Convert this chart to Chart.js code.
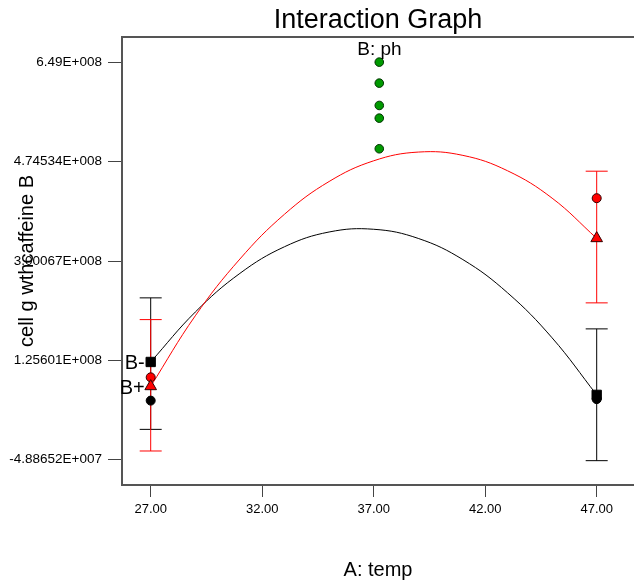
<!DOCTYPE html>
<html>
<head>
<meta charset="utf-8">
<script src="https://cdn.jsdelivr.net/npm/chart.js@4.4.1/dist/chart.umd.min.js"></script>
<style>
  html, body { margin: 0; padding: 0; background: #fff; }
  canvas { display: block; }
</style>
</head>
<body>
<canvas id="c" width="634" height="584"></canvas>
<script>
// Factor A (temp) design levels
const tempLevels = [27, 47];

// Model predictions at the design levels for each level of B (ph)
const bMinusPred = [1.228e8, 6.50e7];
const bPlusPred = [8.0e7, 3.40e8];

// Observed responses at the design levels
const bMinusObs = [5.49e7, 5.75e7];
const bPlusObs = [9.58e7, 4.105e8];

// Interval limits around the predictions
const bMinusLow = [4.4e6, -5.06e7];
const bMinusHigh = [2.354e8, 1.809e8];
const bPlusLow = [-3.36e7, 2.266e8];
const bPlusHigh = [1.972e8, 4.579e8];

// Center point runs
const centerTemp = 37.25;
const centerObs = [6.495e8, 6.126e8, 5.734e8, 5.511e8, 4.973e8];

// Fitted response curves across temp
const curveTemp = [27, 29, 31, 33, 35, 37, 39, 41, 43, 45, 47];
const bMinusCurve = [1.228e8, 2.105e8, 2.784e8, 3.252e8, 3.511e8, 3.559e8, 3.398e8, 3.026e8, 2.444e8, 1.652e8, 6.50e7];
const bPlusCurve = [8.0e7, 2.039e8, 3.036e8, 3.823e8, 4.398e8, 4.762e8, 4.915e8, 4.857e8, 4.587e8, 4.106e8, 3.40e8];

// Axis ticks
const xTickValues = [27, 32, 37, 42, 47];
const xTickLabels = ['27.00', '32.00', '37.00', '42.00', '47.00'];
const yTickValues = [-4.88652e7, 1.25601e8, 3.00067e8, 4.74534e8, 6.49e8];
const yTickLabels = ['-4.88652E+007', '1.25601E+008', '3.00067E+008', '4.74534E+008', '6.49E+008'];

const FONT = 'Arial, "Liberation Sans", sans-serif';
Chart.defaults.font.family = FONT;
Chart.defaults.color = '#000';

const pairs = (xs, ys) => xs.map((x, i) => ({ x, y: ys[i] }));

function barPoints(low, high) {
  const pts = [];
  tempLevels.forEach((t, i) => {
    if (i > 0) pts.push({ x: t, y: null });
    pts.push({ x: t, y: low[i] }, { x: t, y: high[i] });
  });
  return pts;
}

function errorBarSet(label, low, high, color, order) {
  return {
    label,
    data: barPoints(low, high),
    showLine: true,
    spanGaps: false,
    borderColor: color,
    borderWidth: 1,
    pointStyle: 'line',
    pointRadius: 11,
    pointHoverRadius: 11,
    pointBorderColor: color,
    pointBorderWidth: 1,
    order
  };
}

// Top edge of the plot frame plus in-plot labels
const frameLabels = {
  id: 'frameLabels',
  beforeDatasetsDraw(chart) {
    const { ctx, chartArea: a } = chart;
    ctx.save();
    ctx.strokeStyle = '#555';
    ctx.lineWidth = 2;
    ctx.beginPath();
    ctx.moveTo(a.left - 1, a.top);
    ctx.lineTo(a.right, a.top);
    ctx.stroke();
    ctx.restore();
  },
  afterDatasetsDraw(chart) {
    const { ctx, chartArea: a } = chart;
    ctx.save();
    ctx.fillStyle = '#000';
    ctx.font = '19px ' + FONT;
    ctx.textAlign = 'center';
    ctx.textBaseline = 'alphabetic';
    ctx.fillText('B: ph', (a.left + a.right) / 2 + 1.5, a.top + 17.5);

    ctx.font = '20px ' + FONT;
    ctx.textAlign = 'right';
    ctx.textBaseline = 'middle';
    chart.data.datasets.forEach((ds, i) => {
      if (!ds.seriesTag) return;
      const p = chart.getDatasetMeta(i).data[0];
      ctx.fillText(ds.seriesTag, p.x - 6, p.y + 2);
    });
    ctx.restore();
  }
};

new Chart(document.getElementById('c'), {
  type: 'scatter',
  data: {
    datasets: [
      errorBarSet('B- interval', bMinusLow, bMinusHigh, '#000', 10),
      errorBarSet('B+ interval', bPlusLow, bPlusHigh, '#ff0000', 9),
      {
        label: 'B- fit',
        data: pairs(curveTemp, bMinusCurve),
        showLine: true,
        borderColor: '#000',
        borderWidth: 1,
        tension: 0.4,
        pointRadius: 0,
        order: 8
      },
      {
        label: 'B+ fit',
        data: pairs(curveTemp, bPlusCurve),
        showLine: true,
        borderColor: '#ff0000',
        borderWidth: 1,
        tension: 0.4,
        pointRadius: 0,
        order: 7
      },
      {
        label: 'B- observed',
        data: pairs(tempLevels, bMinusObs),
        pointStyle: 'circle',
        pointRadius: 4.5,
        backgroundColor: '#000',
        borderColor: '#000',
        borderWidth: 1,
        order: 6
      },
      {
        label: 'B+ observed',
        data: pairs(tempLevels, bPlusObs),
        pointStyle: 'circle',
        pointRadius: 4.5,
        backgroundColor: '#ff0000',
        borderColor: '#300',
        borderWidth: 1,
        order: 5
      },
      {
        label: 'B-',
        seriesTag: 'B-',
        data: pairs(tempLevels, bMinusPred),
        pointStyle: 'rect',
        pointRadius: 6.6,
        backgroundColor: '#000',
        borderColor: '#000',
        borderWidth: 1,
        order: 4
      },
      {
        label: 'B+',
        seriesTag: 'B+',
        data: pairs(tempLevels, bPlusPred),
        pointStyle: 'triangle',
        pointRadius: 6.7,
        backgroundColor: '#ff0000',
        borderColor: '#300',
        borderWidth: 1,
        order: 3
      },
      {
        label: 'Center points',
        data: centerObs.map(y => ({ x: centerTemp, y })),
        pointStyle: 'circle',
        pointRadius: 4.3,
        backgroundColor: '#009a00',
        borderColor: '#003300',
        borderWidth: 1,
        order: 2
      }
    ]
  },
  options: {
    responsive: false,
    animation: false,
    devicePixelRatio: 1,
    layout: { autoPadding: false, padding: 0 },
    plugins: {
      legend: { display: false },
      tooltip: { enabled: false },
      title: {
        display: true,
        text: 'Interaction Graph',
        fullSize: false,
        color: '#000',
        font: { size: 27, weight: 'normal', family: FONT, lineHeight: 1.2 },
        padding: { top: 4.4, bottom: 0.2 }
      }
    },
    scales: {
      x: {
        type: 'linear',
        position: 'bottom',
        min: 25.713,
        max: 48.673,
        afterBuildTicks: s => { s.ticks = xTickValues.map(v => ({ value: v })); },
        afterFit: s => { s.height = 99; s.paddingLeft = 0; s.paddingRight = 0; },
        ticks: {
          autoSkip: false,
          maxRotation: 0,
          padding: 5,
          color: '#000',
          font: { size: 13, family: FONT },
          callback: (v, i) => xTickLabels[i]
        },
        grid: {
          display: true,
          drawOnChartArea: false,
          drawTicks: true,
          tickLength: 12,
          tickColor: '#444',
          tickWidth: 1
        },
        border: { display: true, color: '#555', width: 2 },
        title: {
          display: true,
          text: 'A: temp',
          color: '#000',
          font: { size: 20, family: FONT, lineHeight: 1.2 },
          padding: { top: 0, bottom: 2 }
        }
      },
      y: {
        type: 'linear',
        position: 'left',
        min: -9.334e7,
        max: 6.9365e8,
        afterBuildTicks: s => { s.ticks = yTickValues.map(v => ({ value: v })); },
        afterFit: s => { s.width = 122; s.paddingTop = 0; s.paddingBottom = 0; },
        ticks: {
          autoSkip: false,
          padding: 6,
          color: '#000',
          font: { size: 13.5, family: FONT },
          callback: (v, i) => yTickLabels[i]
        },
        grid: {
          display: true,
          drawOnChartArea: false,
          drawTicks: true,
          tickLength: 14,
          tickColor: '#444',
          tickWidth: 1
        },
        border: { display: true, color: '#555', width: 2 },
        title: {
          display: true,
          text: 'cell g wthcaffeine B',
          color: '#000',
          font: { size: 20, family: FONT, lineHeight: 1.2 },
          padding: { top: 15, bottom: 0 }
        }
      }
    }
  },
  plugins: [frameLabels]
});
</script>
</body>
</html>
